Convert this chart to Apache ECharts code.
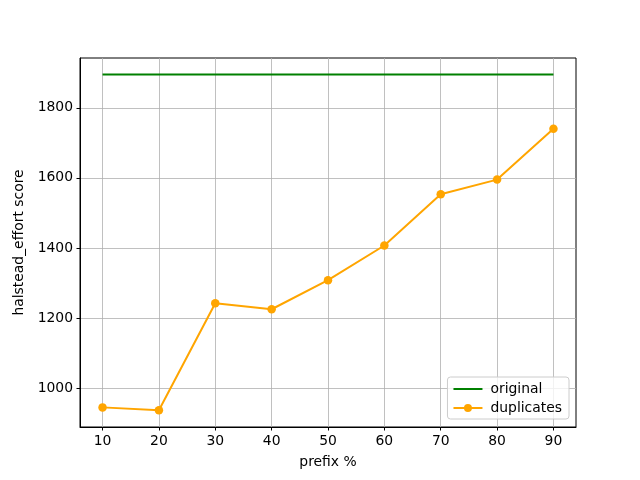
<!DOCTYPE html>
<html>
<head>
<meta charset="utf-8">
<script src="https://cdn.jsdelivr.net/npm/echarts@6/dist/echarts.min.js"></script>
<style>
  html, body { margin: 0; padding: 0; background: #fff; }
  #main { width: 640px; height: 480px; }
</style>
</head>
<body>
<div id="main"></div>
<script>
var prefix = [10, 20, 30, 40, 50, 60, 70, 80, 90]
var original = [1895, 1895, 1895, 1895, 1895, 1895, 1895, 1895, 1895]
var duplicates = [945, 937, 1242, 1225, 1308, 1407, 1553, 1595, 1740]
var yTicks = [1000, 1200, 1400, 1600, 1800]

var myChart = echarts.init(document.getElementById('main'));
var font = 'DejaVu Sans'
var option;
option = {
  animation: false,
  textStyle: { fontFamily: font },
  grid: {
    left: 80, right: 64, top: 58, bottom: 53,
    show: true, borderColor: '#000', borderWidth: 1
  },
  legend: {
    orient: 'vertical',
    right: 71, bottom: 61,
    itemWidth: 29, itemHeight: 10, itemGap: 5,
    padding: [5, 7, 4, 5],
    borderColor: '#cccccc', borderWidth: 1, borderRadius: 3,
    backgroundColor: 'rgba(255,255,255,0.8)',
    textStyle: { fontSize: 13.9, color: '#000', fontFamily: font, padding: [0, 0, 0, 3] },
    data: [{ name: 'original', itemStyle: { opacity: 0 } }, 'duplicates']
  },
  xAxis: {
    type: 'value', min: 6, max: 94,
    name: 'prefix %', nameLocation: 'middle', nameGap: 28,
    nameTextStyle: { fontSize: 13.9, color: '#000' },
    axisLine: { show: true, onZero: false, lineStyle: { color: '#000' } },
    axisTick: { show: true, length: 3.5, customValues: prefix, lineStyle: { color: '#000' } },
    axisLabel: { customValues: prefix, fontSize: 13.9, color: '#000', margin: 7 },
    splitLine: { show: true, lineStyle: { color: '#b0b0b0', width: 0.8 } }
  },
  yAxis: {
    type: 'value', min: 889, max: 1942,
    name: 'halstead_effort score', nameLocation: 'middle', nameGap: 49,
    nameTextStyle: { fontSize: 13.9, color: '#000' },
    axisLine: { show: true, onZero: false, lineStyle: { color: '#000' } },
    axisTick: { show: true, length: 3.5, customValues: yTicks, lineStyle: { color: '#000' } },
    axisLabel: {
      customValues: yTicks, fontSize: 13.9, color: '#000', margin: 7,
      formatter: function (v) { return String(v) }
    },
    splitLine: { show: true, lineStyle: { color: '#b0b0b0', width: 0.8 } }
  },
  series: [
    {
      name: 'original', type: 'line',
      data: prefix.map(function (x, i) { return [x, original[i]] }),
      symbol: 'none',
      lineStyle: { color: 'green', width: 2 },
      itemStyle: { color: 'green' }
    },
    {
      name: 'duplicates', type: 'line',
      data: prefix.map(function (x, i) { return [x, duplicates[i]] }),
      symbol: 'circle', symbolSize: 8.5,
      lineStyle: { color: 'orange', width: 2 },
      itemStyle: { color: 'orange' }
    }
  ]
};
if (option && typeof option === 'object') {
  myChart.setOption(option);
}
</script>
</body>
</html>
